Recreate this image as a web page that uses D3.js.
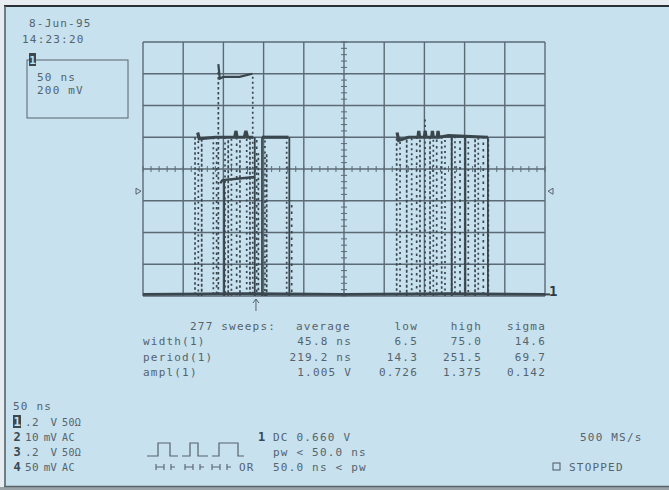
<!DOCTYPE html>
<html><head><meta charset="utf-8">
<script src="https://cdn.jsdelivr.net/npm/d3@7"></script>
<style>html,body{margin:0;padding:0;background:#e4eaed;}svg{display:block;}</style>
</head><body>
<script>
// ---------- data ----------
const timeDomain = [0, 500];          // ns, 50 ns/div
const voltDomain = [0, 1.6];          // V, 200 mV/div
const dateText = "8-Jun-95";
const timeText = "14:23:20";
const boxLines = ["50 ns", "200 mV"];
// persistence edges: time (ns) and top (V)
const edgeTimes = [64.7, 68.8, 73, 87.5, 91.6, 93.7, 102, 106, 110, 116.5, 120.6, 129, 133, 136.5, 141.4, 143.5, 151.7, 153.8, 178.7, 184.9,
                   315.5, 319.7, 328, 334.2, 340.4, 344.5, 350.8, 357, 361.1, 365.3, 371.5, 375.6, 383.9, 388, 394.3, 400.5, 404.6, 413, 417, 423.3, 429.5];
const edgeTops  = [1.0, 1.0, 1.0, 1.0, 1.0, 1.42, 1.0, 1.0, 1.0, 1.0, 1.0, 1.0, 1.0, 1.40, 1.0, 0.9, 1.0, 0.9, 1.0, 0.6,
                   1.0, 1.0, 1.0, 1.0, 1.0, 1.0, 1.12, 1.0, 1.0, 1.0, 1.0, 1.0, 1.0, 1.0, 1.0, 1.0, 1.0, 1.0, 1.0, 1.0, 1.0];
const solidEdgeTimes = [101, 139, 148, 182, 384, 401, 429];
const solidEdgeTops  = [0.73, 1.0, 1.0, 1.0, 1.0, 1.0, 1.0];
const baseTrace = [[0, 0.01], [120, 0.015], [250, 0.01], [380, 0.015], [500, 0.01]];
const highTraces = [
  [[68, 1.03], [70, 0.99], [90, 1.0], [114, 1.0], [115.7, 1.04], [117, 1.0], [126, 1.0], [128, 1.04], [130, 1.0], [137, 1.0]],
  [[148, 1.0], [181, 1.0]],
  [[316, 1.03], [318, 0.98], [330, 1.0], [342, 1.0], [343, 1.04], [344, 1.0], [350, 1.0], [351, 1.04], [352, 1.0],
   [359, 1.0], [360, 1.04], [361, 1.0], [366, 1.0], [367, 1.04], [368, 1.0], [380, 1.01], [429, 1.0]]
];
const tallTrace = [[93.7, 1.46], [95.5, 1.37], [100, 1.38], [120, 1.38], [136, 1.40]];
const midTrace = [[96, 0.71], [99, 0.73], [120, 0.74], [139, 0.75]];
const triggerTime = 140.5;            // ns
const triggerLevel = 0.66;            // V
const statHeader = ["277 sweeps:", "average", "low", "high", "sigma"];
const statNames = ["width(1)", "period(1)", "ampl(1)"];
const statAvg = ["45.8 ns", "219.2 ns", "1.005 V"];
const statLow = ["6.5", "14.3", "0.726"];
const statHigh = ["75.0", "251.5", "1.375"];
const statSigma = ["14.6", "69.7", "0.142"];
const timebase = "50 ns";
const chNums = ["1", "2", "3", "4"];
const chScale = [".2", "10", ".2", "50"];
const chUnit = ["V", "mV", "V", "mV"];
const chCoupling = ["50Ω", "AC", "50Ω", "AC"];
const trigSource = "1";
const trigLines = ["DC 0.660 V", "pw <  50.0 ns", "50.0 ns < pw"];
const trigOr = "OR";
const sampleRate = "500 MS/s";
const statusText = "STOPPED";

// ---------- drawing ----------
const W = 669, H = 490;
const BG = "#c7e1ee", INK = "#56636c", GRID = "#5b6a74", TRACE = "#3a464e";
const FONT = "'DejaVu Sans Mono', monospace";
const svg = d3.select("body").append("svg").attr("width", W).attr("height", H);
svg.append("rect").attr("width", W).attr("height", H).attr("fill", "#e6ecef");
svg.append("rect").attr("x", 5).attr("y", 6).attr("width", W - 5).attr("height", 480).attr("fill", BG);
svg.append("rect").attr("x", 0).attr("y", 487).attr("width", W).attr("height", 3).attr("fill", "#9aa3a8");
svg.append("line").attr("x1", 4).attr("x2", W).attr("y1", 6).attr("y2", 6).attr("stroke", "#2b3034").attr("stroke-width", 2);
svg.append("line").attr("x1", 5).attr("x2", 5).attr("y1", 6).attr("y2", 487).attr("stroke", "#59636a").attr("stroke-width", 1.6);
svg.append("line").attr("x1", 4).attr("x2", W).attr("y1", 486.5).attr("y2", 486.5).attr("stroke", "#59636a").attr("stroke-width", 1.6);

const x = d3.scaleLinear().domain(timeDomain).range([143, 545]);
const y = d3.scaleLinear().domain(voltDomain).range([296, 42]);

function txt(s, px, py, opts = {}) {
  return svg.append("text").attr("x", px).attr("y", py).text(s)
    .attr("font-family", FONT).attr("font-size", opts.size || 11)
    .attr("letter-spacing", opts.ls === undefined ? 1.2 : opts.ls)
    .attr("font-weight", opts.bold ? "bold" : "normal")
    .attr("text-anchor", opts.anchor || "start")
    .attr("fill", opts.fill || INK);
}

// grid
const g = svg.append("g");
g.selectAll("line.v").data(d3.range(timeDomain[0], timeDomain[1] + 1, 50)).join("line")
  .attr("x1", d => x(d)).attr("x2", d => x(d)).attr("y1", y(voltDomain[1])).attr("y2", y(0))
  .attr("stroke", GRID).attr("stroke-width", 1.4);
g.selectAll("line.h").data(d3.range(0, 8.5, 1).map(i => i * 0.2)).join("line")
  .attr("x1", x(0)).attr("x2", x(500)).attr("y1", d => y(d)).attr("y2", d => y(d))
  .attr("stroke", GRID).attr("stroke-width", 1.4);
g.selectAll("line.tx").data(d3.range(0, 500.1, 10)).join("line")
  .attr("x1", d => x(d)).attr("x2", d => x(d)).attr("y1", y(0.8) - 3).attr("y2", y(0.8) + 3)
  .attr("stroke", GRID).attr("stroke-width", 1);
g.selectAll("line.ty").data(d3.range(0, 1.601, 0.04)).join("line")
  .attr("x1", x(250) - 3).attr("x2", x(250) + 3).attr("y1", d => y(d)).attr("y2", d => y(d))
  .attr("stroke", GRID).attr("stroke-width", 1);

// persistence dotted edges
const dashes = ["2.5,2.5", "2,3.5", "3,2", "2,3", "2.5,4"];
const tr = svg.append("g");
tr.selectAll("line.e").data(edgeTimes.map((t, i) => [t, edgeTops[i], i])).join("line")
  .attr("x1", d => x(d[0])).attr("x2", d => x(d[0])).attr("y1", d => y(d[1])).attr("y2", y(0))
  .attr("stroke", TRACE).attr("stroke-width", 1.7)
  .attr("stroke-dasharray", d => dashes[d[2] % dashes.length])
  .attr("stroke-dashoffset", d => (d[2] * 1.7) % 5);
tr.selectAll("line.s").data(solidEdgeTimes.map((t, i) => [t, solidEdgeTops[i]])).join("line")
  .attr("x1", d => x(d[0])).attr("x2", d => x(d[0])).attr("y1", d => y(d[1])).attr("y2", y(0))
  .attr("stroke", TRACE).attr("stroke-width", 1.8);

const line = d3.line().x(d => x(d[0])).y(d => y(d[1]));
tr.append("path").attr("d", line(baseTrace)).attr("fill", "none").attr("stroke", TRACE).attr("stroke-width", 2.8);
highTraces.forEach(h => tr.append("path").attr("d", line(h)).attr("fill", "none").attr("stroke", TRACE).attr("stroke-width", 3.2));
tr.append("path").attr("d", line(tallTrace)).attr("fill", "none").attr("stroke", TRACE).attr("stroke-width", 2.2);
tr.append("path").attr("d", line(midTrace)).attr("fill", "none").attr("stroke", TRACE).attr("stroke-width", 2.4);

// trigger level markers
const ty = y(triggerLevel);
svg.append("path").attr("d", `M136,${ty - 3} L141,${ty} L136,${ty + 3} Z`).attr("fill", "none").attr("stroke", INK).attr("stroke-width", 1);
svg.append("path").attr("d", `M553,${ty - 3} L548,${ty} L553,${ty + 3} Z`).attr("fill", "none").attr("stroke", INK).attr("stroke-width", 1);
// trigger position arrow
const tx = x(triggerTime);
svg.append("line").attr("x1", tx).attr("x2", tx).attr("y1", 299).attr("y2", 311).attr("stroke", INK).attr("stroke-width", 1);
svg.append("path").attr("d", `M${tx - 3},${303} L${tx},${299} L${tx + 3},${303}`).attr("fill", "none").attr("stroke", INK).attr("stroke-width", 1);
// ground marker
svg.append("line").attr("x1", 545).attr("x2", 550).attr("y1", y(0.01)).attr("y2", y(0.01)).attr("stroke", TRACE).attr("stroke-width", 2);
txt("1", 549, 296, { size: 14, bold: true, ls: 0, fill: "#2f3a41" });

// top-left info
txt(dateText, 29, 27);
txt(timeText, 22, 43);
svg.append("rect").attr("x", 27).attr("y", 60).attr("width", 101).attr("height", 58).attr("fill", "none").attr("stroke", INK).attr("stroke-width", 1);
svg.append("rect").attr("x", 29).attr("y", 53).attr("width", 7).attr("height", 13).attr("fill", "#3c474e");
txt("1", 32.5, 64, { size: 11, bold: true, ls: 0, anchor: "middle", fill: BG });
boxLines.forEach((s, i) => txt(s, 37, 81 + i * 13));

// statistics
txt(statHeader[0], 190, 330);
txt(statHeader[1], 296, 330);
txt(statHeader[2], 418, 330, { anchor: "end" });
txt(statHeader[3], 482, 330, { anchor: "end" });
txt(statHeader[4], 546, 330, { anchor: "end" });
statNames.forEach((n, i) => {
  const by = 345 + i * 15.5;
  txt(n, 143, by);
  txt(statAvg[i], 352, by, { anchor: "end" });
  txt(statLow[i], 418, by, { anchor: "end" });
  txt(statHigh[i], 482, by, { anchor: "end" });
  txt(statSigma[i], 546, by, { anchor: "end" });
});

// bottom status
txt(timebase, 13, 410);
chNums.forEach((c, i) => {
  const by = 426 + i * 15;
  if (i === 0) {
    svg.append("rect").attr("x", 13).attr("y", by - 11).attr("width", 8).attr("height", 13).attr("fill", "#3c474e");
    txt(c, 17, by, { size: 12, bold: true, ls: 0, anchor: "middle", fill: BG });
  } else {
    txt(c, 17, by, { size: 12, bold: true, ls: 0, anchor: "middle", fill: "#3c474e" });
  }
  txt(chScale[i], 25, by, { ls: 0.5 });
  txt(chUnit[i], 57, by, { anchor: "end", ls: 0 });
  txt(chCoupling[i], 62, by, { size: 10, ls: 0.4 });
});
// trigger description
txt(trigSource, 258, 441, { size: 12, bold: true, ls: 0, fill: "#3c474e" });
trigLines.forEach((s, i) => txt(s, 273, 441 + i * 15));
txt(trigOr, 239, 471);
txt(sampleRate, 580, 441);
svg.append("rect").attr("x", 553).attr("y", 463).attr("width", 7).attr("height", 7).attr("fill", "none").attr("stroke", INK).attr("stroke-width", 1.1);
txt(statusText, 569, 471);

// pulse-width icons
const icons = [[147, 158, 170, 178], [182, 190, 198, 208], [212, 219, 238, 244]];
icons.forEach(p => {
  svg.append("path").attr("d", `M${p[0]},456 H${p[1]} V443 H${p[2]} V456 H${p[3]}`)
    .attr("fill", "none").attr("stroke", INK).attr("stroke-width", 1.2);
});
const markers = [[156, 164, 171], [185, 193, 200], [212, 220, 227]];
markers.forEach(m => {
  const my = 467;
  svg.append("path").attr("d", `M${m[0]},${my - 3} V${my + 3} M${m[0]},${my} H${m[1]} M${m[1]},${my - 3} V${my + 3} M${m[2]},${my - 3} V${my + 3} M${m[2]},${my} H${m[2] + 4}`)
    .attr("fill", "none").attr("stroke", INK).attr("stroke-width", 1.1);
});
</script>
</body></html>
